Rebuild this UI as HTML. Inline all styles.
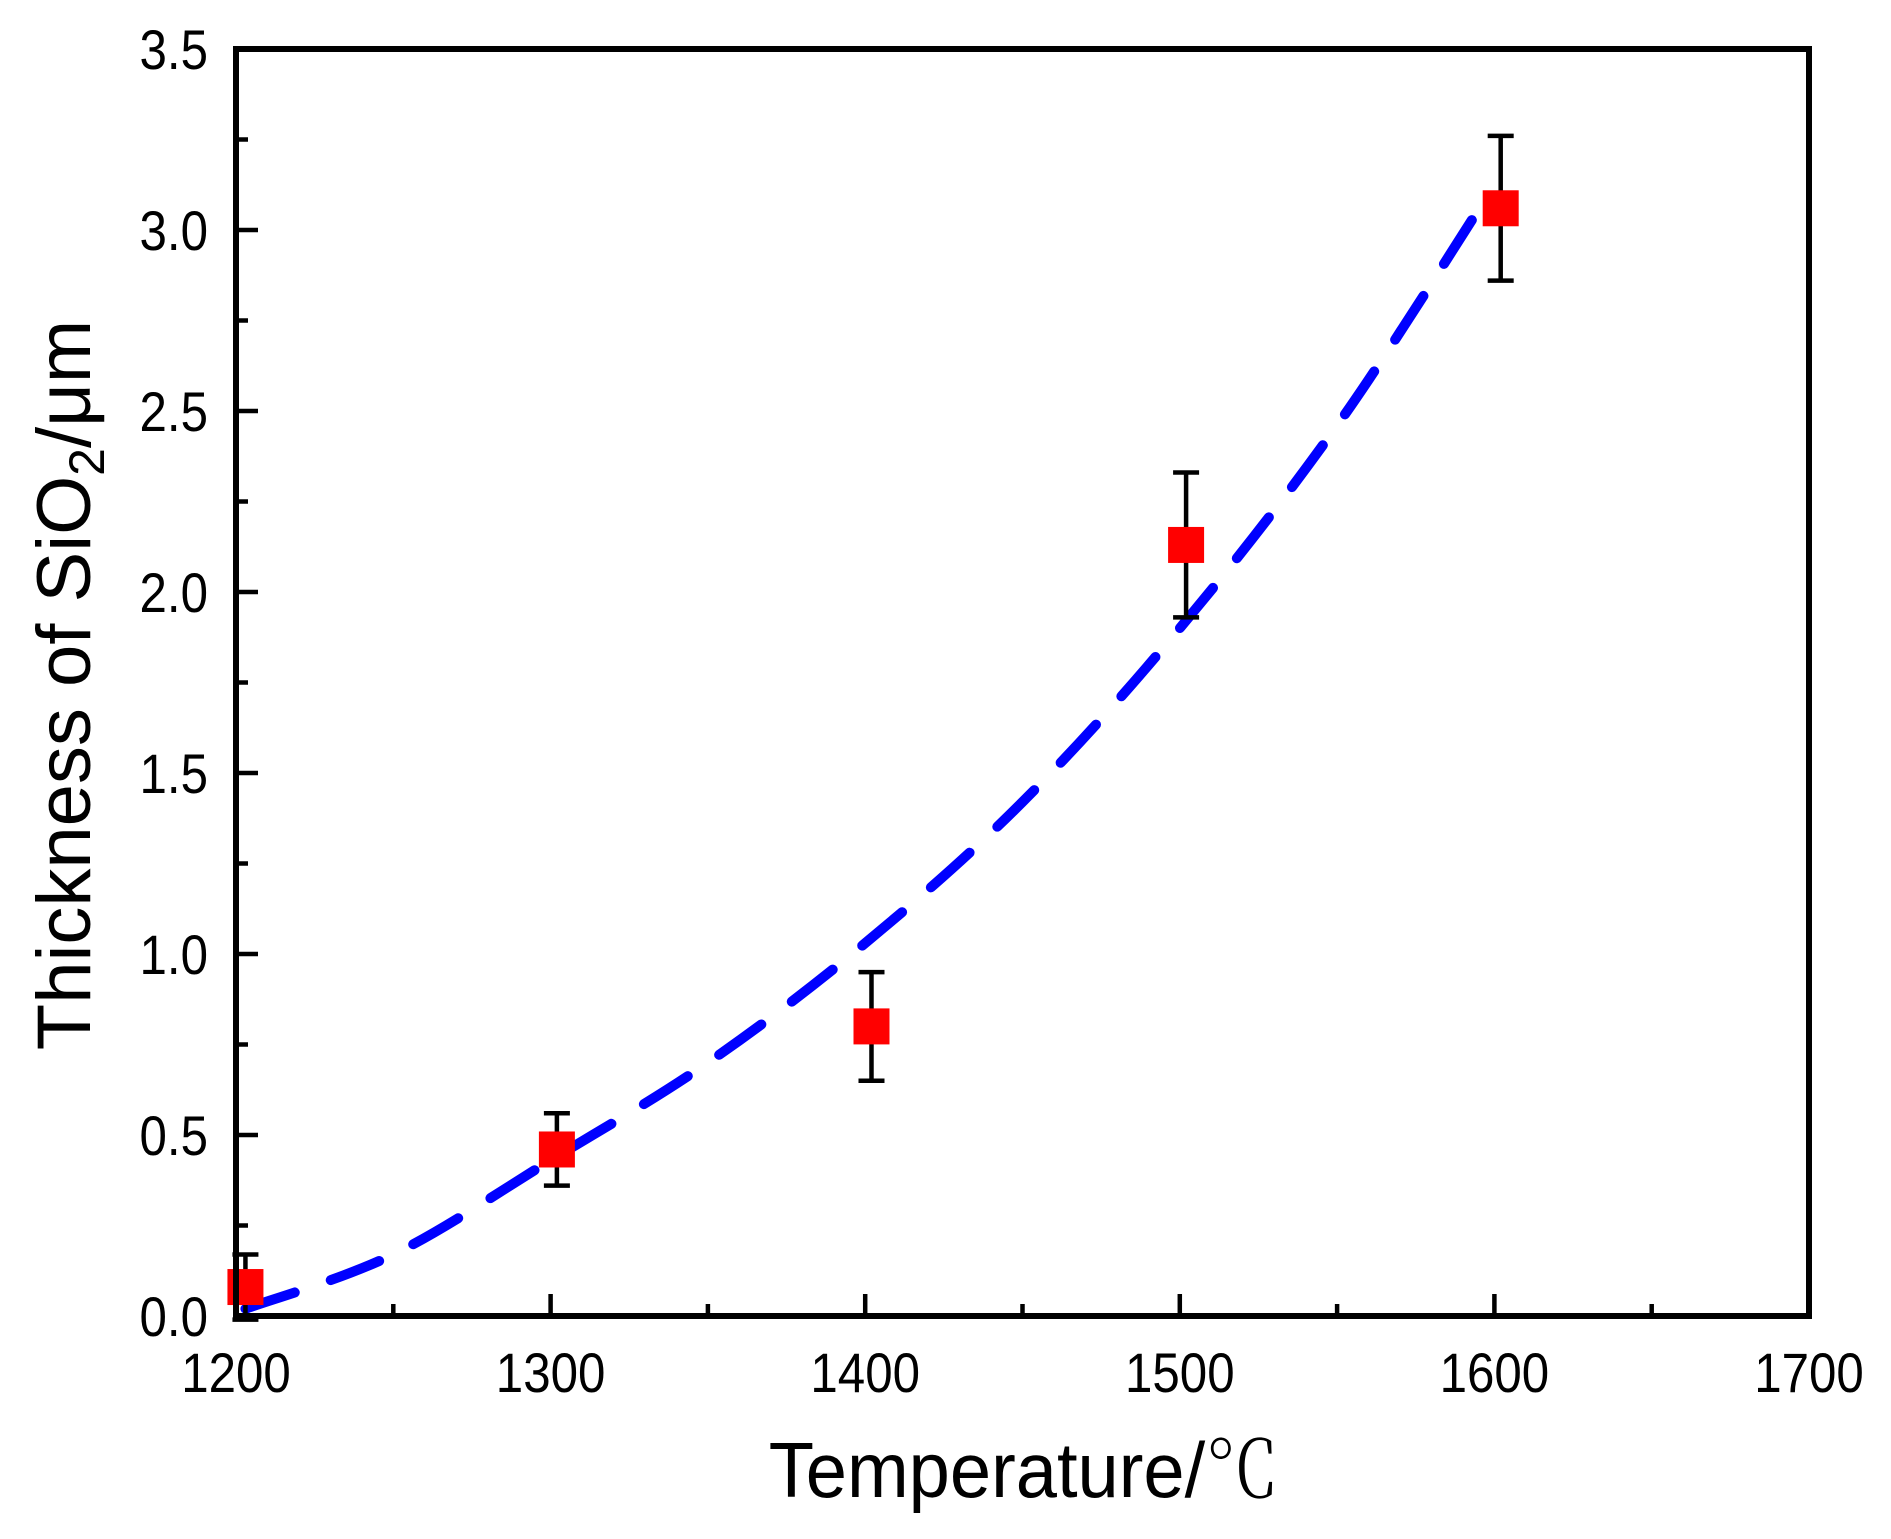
<!DOCTYPE html>
<html><head><meta charset="utf-8">
<style>
html,body{margin:0;padding:0;background:#fff;}
svg{display:block;}
text{font-family:"Liberation Sans","Noto Sans CJK SC",sans-serif;fill:#000;}
</style></head>
<body>
<svg id="chart" width="1891" height="1539" xmlns="http://www.w3.org/2000/svg">
<g id="fitg"></g>
<g id="errg"></g>
<g id="ptg"></g>
<g id="axg"></g>
<text transform="translate(1024,1497) scale(0.95,1)" text-anchor="middle" font-size="78">Temperature/<tspan style="font-family:'Noto Serif CJK SC',serif;font-weight:300">℃</tspan></text>
<text transform="translate(90,685) rotate(-90)" text-anchor="middle" font-size="76">Thickness of SiO<tspan font-size="50" dy="14">2</tspan><tspan dy="-14">/μm</tspan></text>
</svg>
<script>
const temps = [1203, 1302, 1402, 1502, 1602];
const thickness = [0.08, 0.46, 0.80, 2.13, 3.06];
const errors = [0.09, 0.10, 0.15, 0.20, 0.20];
const fitX = [1203, 1250, 1300, 1350, 1400, 1450, 1500, 1550, 1596];
const fitY = [0.02, 0.17, 0.43, 0.70, 1.03, 1.42, 1.90, 2.46, 3.07];
const xTicks = [1200, 1300, 1400, 1500, 1600, 1700];
const yTicks = [0.0, 0.5, 1.0, 1.5, 2.0, 2.5, 3.0, 3.5];

const L=236,R=1809,T=49,B=1316;
const xs=v=>L+(v-1200)/500*(R-L);
const ys=v=>B-v/3.5*(B-T);
const NS="http://www.w3.org/2000/svg";
function mk(tag,parent,attrs){const e=document.createElementNS(NS,tag);for(const k in attrs)e.setAttribute(k,attrs[k]);parent.appendChild(e);return e;}

const P=fitX.map((x,i)=>[xs(x),ys(fitY[i])]);
let d=`M${P[0][0]},${P[0][1]}`;
for(let i=0;i<P.length-1;i++){
  const p0=P[i-1]||P[i],p1=P[i],p2=P[i+1],p3=P[i+2]||p2;
  d+=` C${p1[0]+(p2[0]-p0[0])/6},${p1[1]+(p2[1]-p0[1])/6} ${p2[0]-(p3[0]-p1[0])/6},${p2[1]-(p3[1]-p1[1])/6} ${p2[0]},${p2[1]}`;
}
const fit=mk('path',document.getElementById('fitg'),{d:d,fill:'none',stroke:'#0000ff','stroke-width':10,'stroke-dasharray':'52 38','stroke-linecap':'round'});



const eg=document.getElementById('errg'), pg=document.getElementById('ptg');
temps.forEach((t,i)=>{
  const x=xs(t),y1=ys(thickness[i]+errors[i]),y2=ys(thickness[i]-errors[i]);
  const eb=mk('path',eg,{d:`M${x},${y1}V${y2}M${x-13},${y1}H${x+13}M${x-13},${y2}H${x+13}`,stroke:'#000','stroke-width':4.5,fill:'none'});
  
  
  const s=36;
  const pt=mk('rect',pg,{x:x-s/2,y:ys(thickness[i])-s/2,width:s,height:s,fill:'#ff0000'});
  
  
});

const ag=document.getElementById('axg');
const frame=mk('rect',ag,{x:L,y:T,width:R-L,height:B-T,fill:'none',stroke:'#000','stroke-width':6});


for(let v=1200;v<=1700;v+=50){
  const maj=(v%100===0);const x=xs(v);
  const tk=mk('line',ag,{x1:x,x2:x,y1:B,y2:B-(maj?22:12),stroke:'#000','stroke-width':4.5});
  
  
}
xTicks.forEach(v=>{
  const tx=mk('text',ag,{transform:`translate(${xs(v)},1392) scale(0.88,1)`,'text-anchor':'middle','font-size':56});
  tx.textContent=v;
  
  
});
for(let k=0;k<=14;k++){
  const v=k*0.25;const y=ys(v);const maj=(k%2===0);
  const tk=mk('line',ag,{x1:L,x2:L+(maj?22:12),y1:y,y2:y,stroke:'#000','stroke-width':4.5});
  
  
}
yTicks.forEach(v=>{
  const tx=mk('text',ag,{transform:`translate(208,${ys(v)+20}) scale(0.88,1)`,'text-anchor':'end','font-size':56});
  tx.textContent=v.toFixed(1);
  
  
});
</script>
</body></html>
